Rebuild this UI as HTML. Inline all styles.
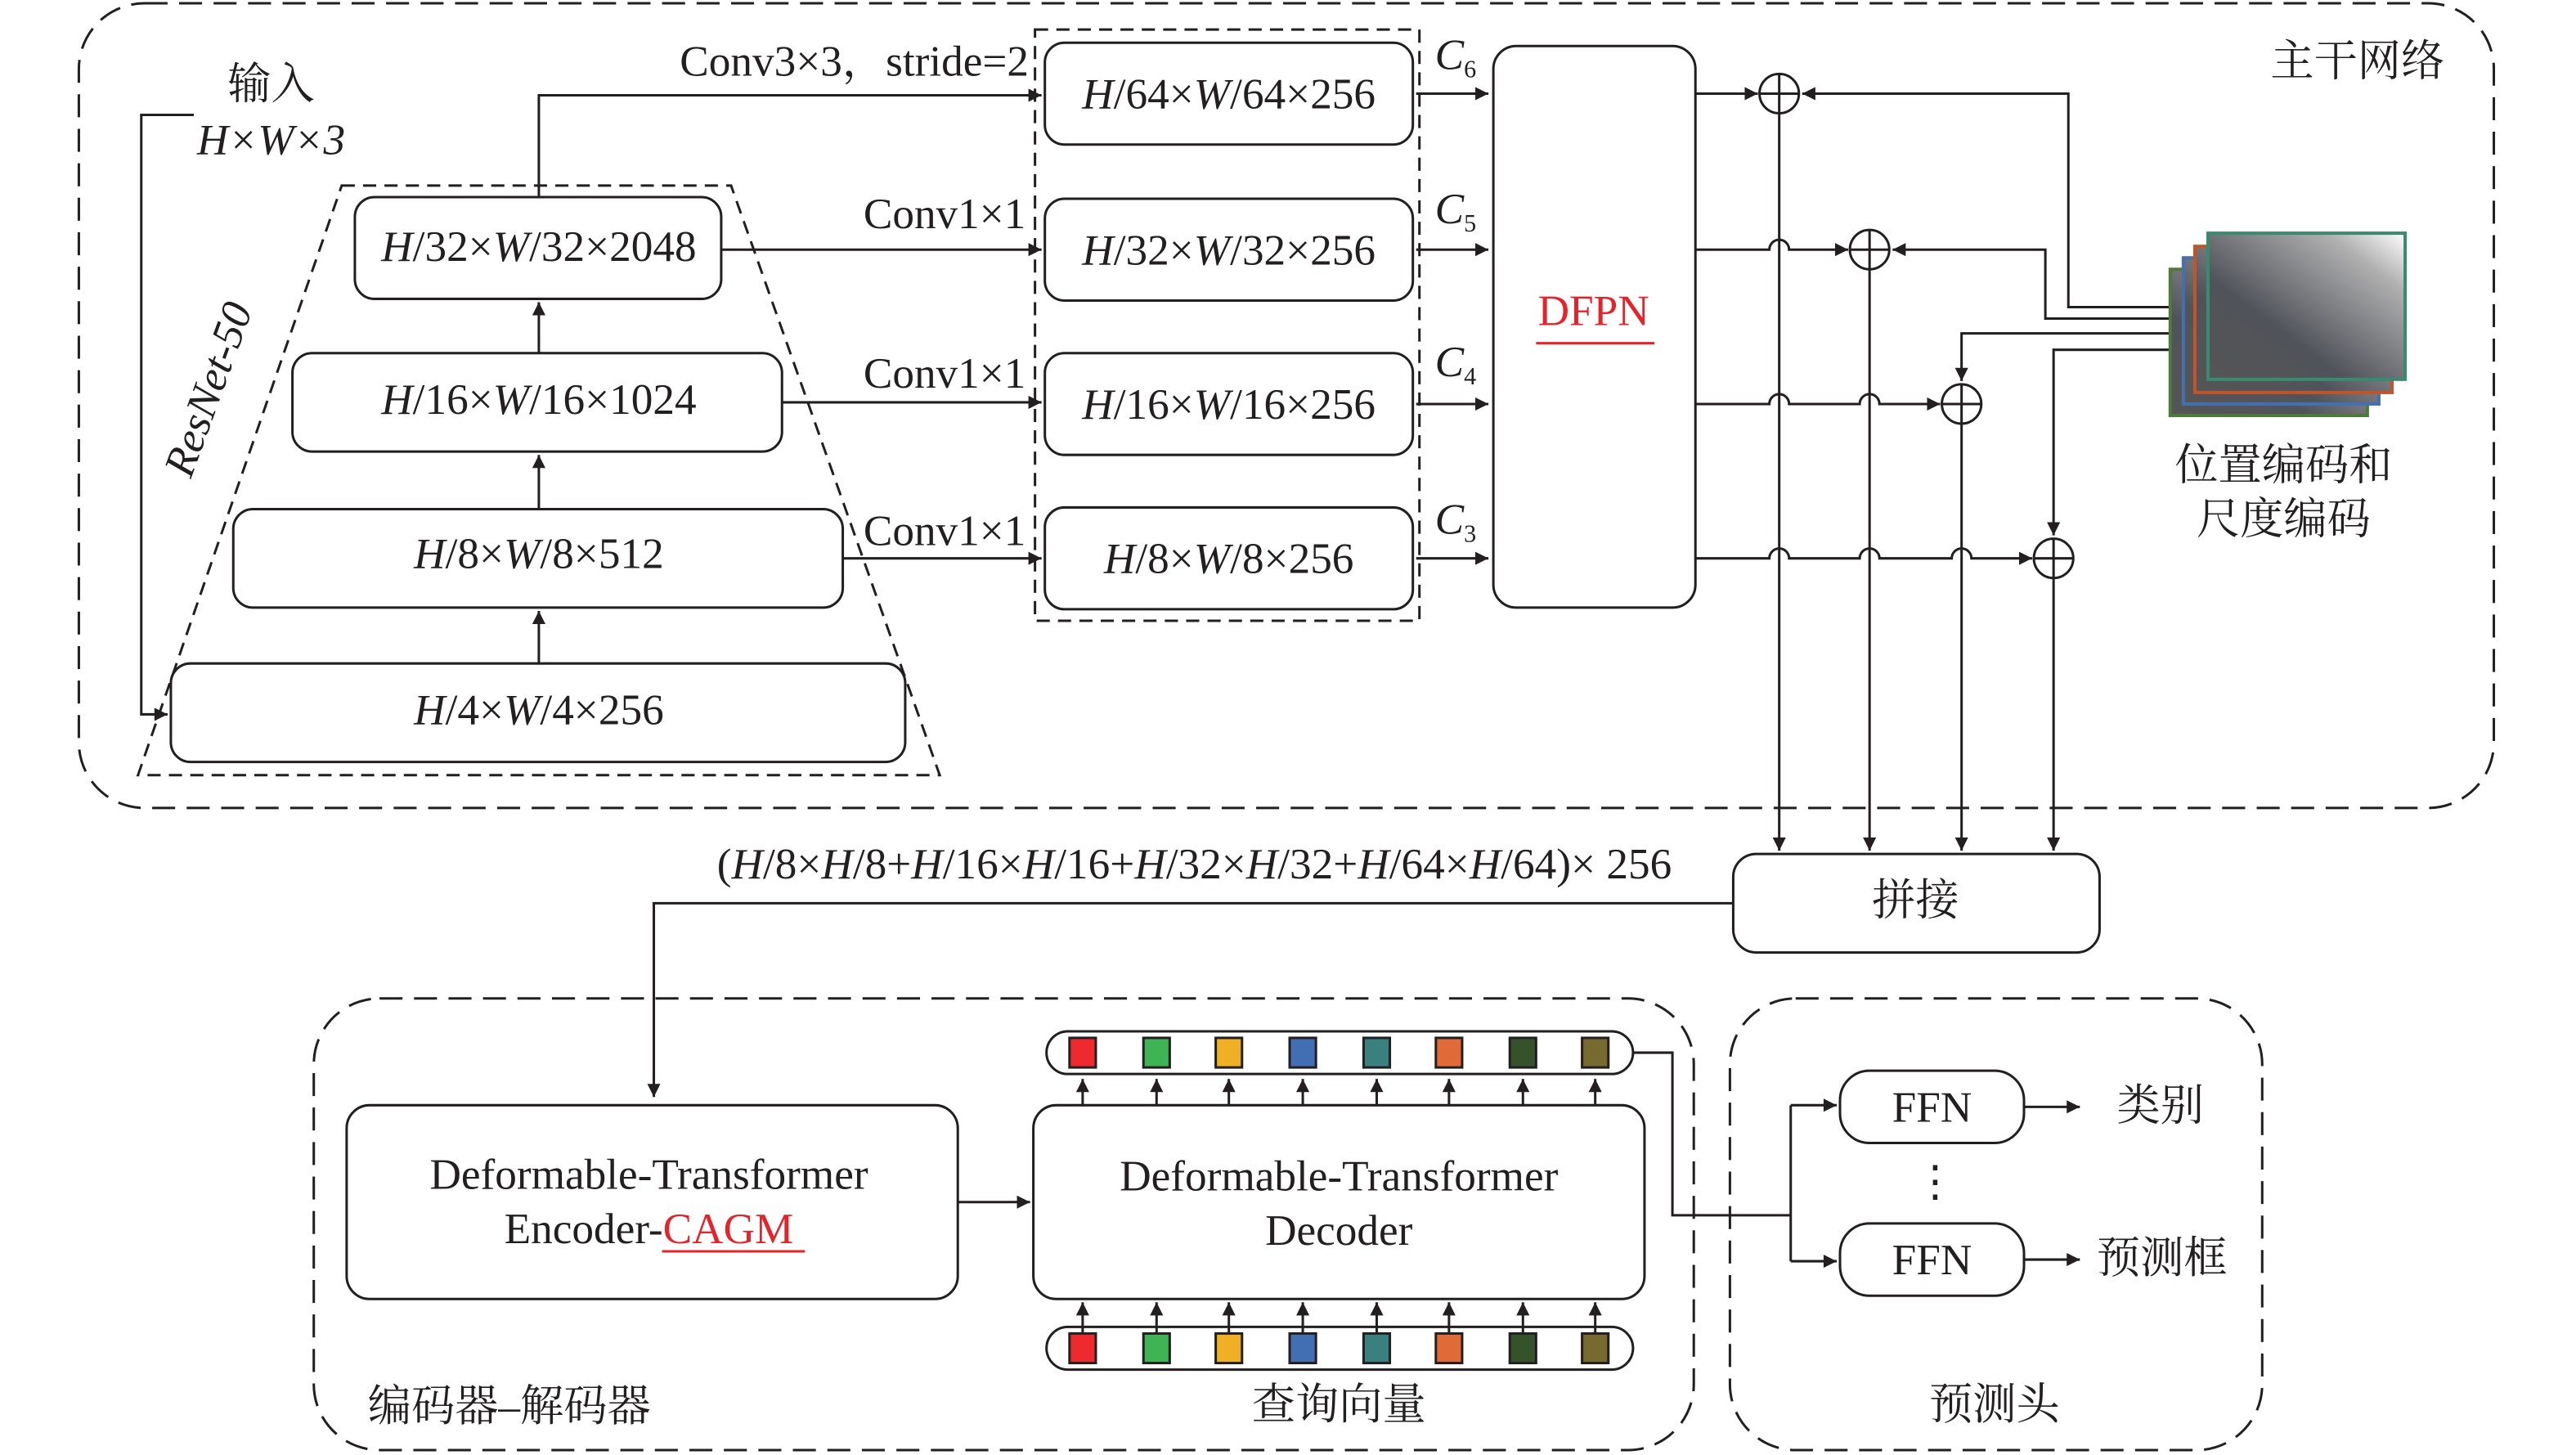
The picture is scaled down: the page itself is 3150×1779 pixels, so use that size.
<!DOCTYPE html>
<html><head><meta charset="utf-8"><style>
html,body{margin:0;padding:0;background:#fff;}
svg{display:block;}
text{font-family:"Liberation Serif","Noto Serif CJK SC","Noto Sans CJK SC",serif;fill:#231f20;}
</style></head><body>
<svg width="3150" height="1779" viewBox="0 0 1568 886" preserveAspectRatio="none" xmlns="http://www.w3.org/2000/svg">
<defs>
<marker id="a" viewBox="0 0 10 10" refX="10" refY="5" markerWidth="11" markerHeight="8" markerUnits="userSpaceOnUse" orient="auto"><path d="M0,0 L10,5 L0,10 z" fill="#231f20"/></marker>
<linearGradient id="g" x1="0" y1="1" x2="1" y2="0"><stop offset="0" stop-color="#555"/><stop offset="0.35" stop-color="#50535a"/><stop offset="0.8" stop-color="#b0b0b0"/><stop offset="1" stop-color="#fff"/></linearGradient>
</defs>
<g fill="none" stroke="#231f20" stroke-width="1.5">
<rect x="48" y="2" width="1470" height="490" rx="40" stroke-dasharray="14,7"/>
<polygon points="208,113 445,113 572,472 84,472" stroke-dasharray="8,5"/>
<rect x="630" y="18" width="234" height="360" stroke-dasharray="8,5"/>
<rect x="191" y="608" width="840" height="275" rx="40" stroke-dasharray="14,7"/>
<rect x="1053" y="608" width="324" height="275" rx="40" stroke-dasharray="14,7"/>

<rect x="216" y="120" width="223" height="62" rx="12"/>
<rect x="178" y="215" width="298" height="60" rx="12"/>
<rect x="142" y="310" width="371" height="60" rx="12"/>
<rect x="104" y="404" width="447" height="60" rx="12"/>
<rect x="636" y="26" width="224" height="62" rx="12"/>
<rect x="636" y="121" width="224" height="62" rx="12"/>
<rect x="636" y="215" width="224" height="62" rx="12"/>
<rect x="636" y="309" width="224" height="62" rx="12"/>
<rect x="909" y="28" width="123" height="342" rx="14"/>
<rect x="1055" y="520" width="223" height="60" rx="14"/>
<rect x="211" y="673" width="372" height="118" rx="14"/>
<rect x="629" y="673" width="372" height="118" rx="14"/>
<rect x="637" y="628" width="357" height="26" rx="13"/>
<rect x="637" y="808" width="357" height="26" rx="13"/>
<rect x="1120" y="652" width="112" height="44" rx="18"/>
<rect x="1120" y="745" width="112" height="44" rx="18"/>

<path d="M118,70 H86 V435 H102" marker-end="url(#a)"/>
<path d="M328,404 V372" marker-end="url(#a)"/>
<path d="M328,310 V277" marker-end="url(#a)"/>
<path d="M328,215 V184" marker-end="url(#a)"/>
<path d="M328,120 V58 H634" marker-end="url(#a)"/>
<path d="M439,152 H634" marker-end="url(#a)"/>
<path d="M476,245 H634" marker-end="url(#a)"/>
<path d="M513,340 H634" marker-end="url(#a)"/>
<path d="M862,57 H906" marker-end="url(#a)"/>
<path d="M862,152 H906" marker-end="url(#a)"/>
<path d="M862,246 H906" marker-end="url(#a)"/>
<path d="M862,340 H906" marker-end="url(#a)"/>

<path d="M1032,57 H1070" marker-end="url(#a)"/>
<path d="M1032,152 H1077 a6,6 0 0 1 12,0 H1125" marker-end="url(#a)"/>
<path d="M1032,246 H1077 a6,6 0 0 1 12,0 H1132 a6,6 0 0 1 12,0 H1181" marker-end="url(#a)"/>
<path d="M1032,340 H1077 a6,6 0 0 1 12,0 H1132 a6,6 0 0 1 12,0 H1188 a6,6 0 0 1 12,0 H1237" marker-end="url(#a)"/>
<circle cx="1083" cy="57" r="12"/><path d="M1071,57 H1095 M1083,45 V69"/>
<circle cx="1138" cy="152" r="12"/><path d="M1126,152 H1150 M1138,140 V164"/>
<circle cx="1194" cy="246" r="12"/><path d="M1182,246 H1206 M1194,234 V258"/>
<circle cx="1250" cy="340" r="12"/><path d="M1238,340 H1262 M1250,328 V352"/>
<path d="M1083,69 V518" marker-end="url(#a)"/>
<path d="M1138,164 V518" marker-end="url(#a)"/>
<path d="M1194,258 V518" marker-end="url(#a)"/>
<path d="M1250,352 V518" marker-end="url(#a)"/>

<path d="M1344,187 H1259 V57 H1097" marker-end="url(#a)"/>
<path d="M1336,194 H1245 V152 H1152" marker-end="url(#a)"/>
<path d="M1329,203 H1194 V232" marker-end="url(#a)"/>
<path d="M1321,213 H1250 V326" marker-end="url(#a)"/>

<path d="M1055,550 H398 V668" marker-end="url(#a)"/>
<path d="M583,732 H627" marker-end="url(#a)"/>
<path d="M994,641 H1018 V740 H1090 M1090,673 V768"/>
<path d="M1090,673 H1118" marker-end="url(#a)"/>
<path d="M1090,768 H1118" marker-end="url(#a)"/>
<path d="M1232,674 H1266" marker-end="url(#a)"/>
<path d="M1232,767 H1266" marker-end="url(#a)"/>
</g>
<g stroke-width="2">
<rect x="1321" y="164" width="120" height="89" fill="url(#g)" stroke="#4e7a3a"/>
<rect x="1329" y="157" width="119" height="89" fill="url(#g)" stroke="#4470b0"/>
<rect x="1336" y="150" width="120" height="89" fill="url(#g)" stroke="#c0552a"/>
<rect x="1344" y="142" width="120" height="89" fill="url(#g)" stroke="#3a8a6e"/>
</g>
<g stroke="#231f20" stroke-width="1.5">
<g id="tk">
<rect x="651" y="632" width="16" height="18" fill="#ee2a2f"/>
<rect x="696" y="632" width="16" height="18" fill="#3fb454"/>
<rect x="740" y="632" width="16" height="18" fill="#f0b026"/>
<rect x="785" y="632" width="16" height="18" fill="#426fb3"/>
<rect x="830" y="632" width="16" height="18" fill="#39807f"/>
<rect x="874" y="632" width="16" height="18" fill="#e06b38"/>
<rect x="919" y="632" width="16" height="18" fill="#36522b"/>
<rect x="963" y="632" width="16" height="18" fill="#776a2e"/>
</g>
<use href="#tk" y="180"/>
</g>
<g fill="none" stroke="#231f20" stroke-width="1.5">
<path d="M659,673 V657" marker-end="url(#a)"/><path d="M704,673 V657" marker-end="url(#a)"/><path d="M748,673 V657" marker-end="url(#a)"/><path d="M793,673 V657" marker-end="url(#a)"/><path d="M838,673 V657" marker-end="url(#a)"/><path d="M882,673 V657" marker-end="url(#a)"/><path d="M927,673 V657" marker-end="url(#a)"/><path d="M971,673 V657" marker-end="url(#a)"/>
<path d="M659,812 V793" marker-end="url(#a)"/><path d="M704,812 V793" marker-end="url(#a)"/><path d="M748,812 V793" marker-end="url(#a)"/><path d="M793,812 V793" marker-end="url(#a)"/><path d="M838,812 V793" marker-end="url(#a)"/><path d="M882,812 V793" marker-end="url(#a)"/><path d="M927,812 V793" marker-end="url(#a)"/><path d="M971,812 V793" marker-end="url(#a)"/>
</g>
<g font-size="26.5" text-anchor="middle">
<text x="165" y="60">输入</text>
<text x="165" y="94" font-style="italic">H×W×3</text>
<text x="135" y="240" font-style="italic" transform="rotate(-70 135 240)">ResNet-50</text>
<text x="1435" y="46">主干网络</text>
<text x="328" y="159"><tspan font-style="italic">H</tspan>/32×<tspan font-style="italic">W</tspan>/32×2048</text>
<text x="328" y="252"><tspan font-style="italic">H</tspan>/16×<tspan font-style="italic">W</tspan>/16×1024</text>
<text x="328" y="346"><tspan font-style="italic">H</tspan>/8×<tspan font-style="italic">W</tspan>/8×512</text>
<text x="328" y="441"><tspan font-style="italic">H</tspan>/4×<tspan font-style="italic">W</tspan>/4×256</text>
<text x="748" y="66"><tspan font-style="italic">H</tspan>/64×<tspan font-style="italic">W</tspan>/64×256</text>
<text x="748" y="161"><tspan font-style="italic">H</tspan>/32×<tspan font-style="italic">W</tspan>/32×256</text>
<text x="748" y="255"><tspan font-style="italic">H</tspan>/16×<tspan font-style="italic">W</tspan>/16×256</text>
<text x="748" y="349"><tspan font-style="italic">H</tspan>/8×<tspan font-style="italic">W</tspan>/8×256</text>
<text x="520" y="46">Conv3×3，stride=2</text>
<text x="575" y="139">Conv1×1</text>
<text x="575" y="236">Conv1×1</text>
<text x="575" y="332">Conv1×1</text>
<text x="886" y="42" font-style="italic">C<tspan font-size="15" font-style="normal" dy="5">6</tspan></text>
<text x="886" y="136" font-style="italic">C<tspan font-size="15" font-style="normal" dy="5">5</tspan></text>
<text x="886" y="229" font-style="italic">C<tspan font-size="15" font-style="normal" dy="5">4</tspan></text>
<text x="886" y="325" font-style="italic">C<tspan font-size="15" font-style="normal" dy="5">3</tspan></text>
<text x="970" y="198" style="fill:#e3242b">DFPN</text>
<text x="1390" y="292">位置编码和</text>
<text x="1390" y="325">尺度编码</text>
<text x="727" y="535"><tspan>(</tspan><tspan font-style="italic">H</tspan>/8×<tspan font-style="italic">H</tspan>/8+<tspan font-style="italic">H</tspan>/16×<tspan font-style="italic">H</tspan>/16+<tspan font-style="italic">H</tspan>/32×<tspan font-style="italic">H</tspan>/32+<tspan font-style="italic">H</tspan>/64×<tspan font-style="italic">H</tspan>/64)× 256</text>
<text x="1166" y="557">拼接</text>
<text x="395" y="724">Deformable-Transformer</text>
<text x="395" y="757">Encoder-<tspan style="fill:#e3242b">CAGM</tspan></text>
<text x="815" y="725">Deformable-Transformer</text>
<text x="815" y="758">Decoder</text>
<text x="1176" y="683">FFN</text>
<text x="1176" y="776">FFN</text>
<text x="1178" y="728">⋮</text>
<text x="1315" y="682">类别</text>
<text x="1316" y="775">预测框</text>
<text x="310" y="865">编码器–解码器</text>
<text x="815" y="864">查询向量</text>
<text x="1214" y="864">预测头</text>
</g>
<path d="M935,209 H1007 M403,762 H490" stroke="#e3242b" stroke-width="1.5"/>
</svg>
</body></html>
